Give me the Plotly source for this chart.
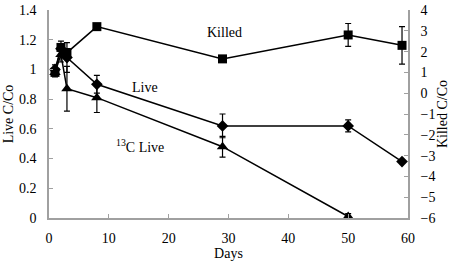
import plotly.graph_objects as go

days_killed = [1, 2, 3, 8, 29, 50, 59]
killed = [1.0, 2.2, 1.95, 3.2, 1.65, 2.8, 2.3]
killed_err = [0.1, 0.15, 0.2, 0.0, 0.0, 0.55, 0.9]

days_live = [1, 2, 3, 8, 29, 50, 59]
live = [1.0, 1.14, 1.08, 0.9, 0.62, 0.62, 0.38]
live_err = [0.03, 0.05, 0.1, 0.06, 0.08, 0.04, 0.0]

days_c13 = [1, 2, 3, 8, 29, 50]
c13 = [0.98, 1.1, 0.87, 0.81, 0.48, 0.01]
c13_err = [0.03, 0.05, 0.15, 0.1, 0.07, 0.02]

font = dict(family="Liberation Serif", size=14, color="black")

fig = go.Figure()
fig.add_trace(go.Scatter(
    x=days_live, y=live, mode="lines+markers",
    line=dict(color="black", width=1.5),
    marker=dict(symbol="diamond", size=9, color="black"),
    error_y=dict(type="data", array=live_err, color="black", thickness=1.2, width=3),
    yaxis="y", showlegend=False))
fig.add_trace(go.Scatter(
    x=days_c13, y=c13, mode="lines+markers",
    line=dict(color="black", width=1.5),
    marker=dict(symbol="triangle-up", size=10, color="black"),
    error_y=dict(type="data", array=c13_err, color="black", thickness=1.2, width=3),
    yaxis="y", showlegend=False))
fig.add_trace(go.Scatter(
    x=days_killed, y=killed, mode="lines+markers",
    line=dict(color="black", width=1.5),
    marker=dict(symbol="square", size=9, color="black"),
    error_y=dict(type="data", array=killed_err, color="black", thickness=1.2, width=3),
    yaxis="y2", showlegend=False))

axcol = "#a0a0a0"
fig.update_layout(
    width=454, height=263,
    margin=dict(l=49, r=46, t=10, b=45),
    paper_bgcolor="white", plot_bgcolor="white",
    font=font,
    xaxis=dict(range=[0, 60], dtick=10, showgrid=False, zeroline=False,
               showline=True, linecolor=axcol, linewidth=1.5,
               ticks="inside", ticklen=4, tickcolor=axcol, automargin=False,
               tickfont=font, ticklabelstandoff=6,
               title=dict(text="Days", font=font, standoff=0)),
    yaxis=dict(range=[0, 1.4], dtick=0.2, showgrid=False, zeroline=False,
               showline=True, linecolor=axcol, linewidth=1.5,
               ticks="inside", ticklen=4, tickcolor=axcol, automargin=False,
               tickformat="~g", tickfont=font, ticklabelstandoff=8,
               title=dict(text="Live C/Co", font=font, standoff=2)),
    yaxis2=dict(range=[-6, 4], dtick=1, overlaying="y", side="right",
                showgrid=False, zeroline=False,
                showline=True, linecolor=axcol, linewidth=1.5,
                ticks="inside", ticklen=4, tickcolor=axcol, automargin=False,
                tickfont=font, ticklabelstandoff=8,
                title=dict(text="Killed C/Co", font=font, standoff=2)),
    annotations=[
        dict(x=29.3, y=2.9, xref="x", yref="y2", text="Killed", showarrow=False, font=font),
        dict(x=16, y=0.88, xref="x", yref="y", text="Live", showarrow=False, font=font),
        dict(x=15.2, y=0.485, xref="x", yref="y", text="<sup>13</sup>C Live", showarrow=False, font=font),
    ],
)
fig.write_html("out.html", config={"displayModeBar": False},
               post_script="document.body.style.margin='0';")
